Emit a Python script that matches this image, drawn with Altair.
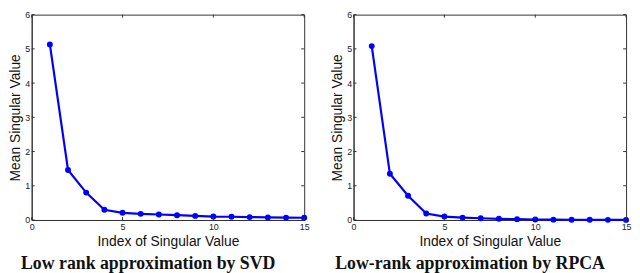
import altair as alt
import pandas as pd

idx = list(range(1, 16))
svd_vals = [5.13, 1.46, 0.80, 0.30, 0.21, 0.18, 0.16, 0.14, 0.12, 0.10, 0.095, 0.085, 0.075, 0.07, 0.065]
rpca_vals = [5.08, 1.35, 0.71, 0.19, 0.10, 0.07, 0.05, 0.035, 0.025, 0.015, 0.01, 0.008, 0.005, 0.004, 0.003]
x_ticks = [0, 5, 10, 15]
y_ticks = [0, 1, 2, 3, 4, 5, 6]
titles = ["Low rank approximation by SVD", "Low-rank approximation by RPCA"]

W, H = 276, 208
TICK = 3
AX = "#333333"


def panel(vals, title):
    df = pd.DataFrame({"i": idx, "v": vals})
    xs = alt.Scale(domain=[0, 15], nice=False)
    ys = alt.Scale(domain=[0, 6], nice=False)
    common = dict(ticks=False, grid=False, labelFontSize=9,
                  titleFontSize=14, titleFontWeight="normal", domainColor=AX,
                  labelColor="#222222", titleColor="#111111", labelFont="Liberation Sans",
                  titleFont="Liberation Sans", labelOverlap=False, labelFlush=False)
    xax = alt.Axis(values=x_ticks, title="Index of Singular Value", titlePadding=3,
                   labelPadding=3, **common)
    yax = alt.Axis(values=y_ticks, title="Mean Singular Value", titlePadding=2,
                   labelPadding=2, **common)
    base = alt.Chart(df)
    line = base.mark_line(color="#0000ff", strokeWidth=2.2).encode(
        x=alt.X("i:Q", scale=xs, axis=xax), y=alt.Y("v:Q", scale=ys, axis=yax))
    pts = base.mark_circle(color="#0000ff", size=36, opacity=1).encode(
        x=alt.X("i:Q", scale=xs, axis=xax), y=alt.Y("v:Q", scale=ys, axis=yax))
    xt = pd.DataFrame({"t": x_ticks})
    yt = pd.DataFrame({"t": y_ticks})
    bt = alt.Chart(xt).mark_rule(color=AX, strokeWidth=1).encode(
        x=alt.X("t:Q", scale=xs, axis=xax), y=alt.value(H), y2=alt.value(H - TICK))
    tt = alt.Chart(xt).mark_rule(color=AX, strokeWidth=1).encode(
        x=alt.X("t:Q", scale=xs, axis=xax), y=alt.value(0), y2=alt.value(TICK))
    lt = alt.Chart(yt).mark_rule(color=AX, strokeWidth=1).encode(
        y=alt.Y("t:Q", scale=ys, axis=yax), x=alt.value(0), x2=alt.value(TICK))
    rt = alt.Chart(yt).mark_rule(color=AX, strokeWidth=1).encode(
        y=alt.Y("t:Q", scale=ys, axis=yax), x=alt.value(W), x2=alt.value(W - TICK))
    return alt.layer(line, pts, bt, tt, lt, rt).properties(
        width=W, height=H,
        title=alt.TitleParams(title, orient="bottom", font="Liberation Serif",
                              fontSize=18, fontWeight="bold", color="#111111",
                              offset=7, dx=-20))


chart = alt.hconcat(panel(svd_vals, titles[0]), panel(rpca_vals, titles[1]),
                    spacing=50, bounds="flush").configure_view(
    stroke=AX, strokeWidth=1).properties(
    padding={"left": 0, "top": 0, "right": 0, "bottom": 0})

chart.save("out.html", embed_options={"renderer": "svg", "actions": False})
